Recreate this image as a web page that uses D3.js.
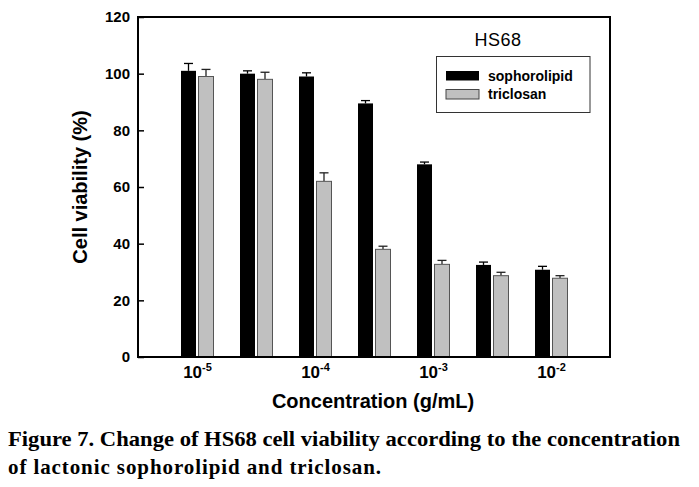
<!DOCTYPE html>
<html>
<head>
<meta charset="utf-8">
<script src="https://cdn.jsdelivr.net/npm/d3@7"></script>
<style>
  html, body { margin: 0; padding: 0; background: #fff; }
  svg { display: block; }
</style>
</head>
<body>
<svg id="chart" width="699" height="487"></svg>
<script>
// ---- data ----
const logConc = [-5, -4.5, -4, -3.5, -3, -2.5, -2];
const sophorolipid = [101, 100, 99, 89.5, 68, 32.5, 30.8];
const sophorolipidErr = [2.6, 1.0, 1.3, 1.0, 0.8, 1.0, 1.2];
const triclosan = [99, 98, 62, 38, 32.7, 28.7, 27.8];
const triclosanErr = [2.5, 2.5, 3.0, 1.1, 1.4, 1.2, 0.9];
const yTicks = [0, 20, 40, 60, 80, 100, 120];
const xTicks = [-5, -4, -3, -2];
const seriesNames = ["sophorolipid", "triclosan"];
const chartTitle = "HS68";
const yTitle = "Cell viability (%)";
const xTitle = "Concentration (g/mL)";
const captionLines = [
  "Figure 7. Change of HS68 cell viability according to the concentration",
  "of lactonic sophorolipid and triclosan."
];

// ---- layout ----
const svg = d3.select("#chart");
const L = 138, R = 610, T = 17, B = 357;
const x = d3.scaleLinear().domain([-5.5, -1.5]).range([L, R]);
const y = d3.scaleLinear().domain([0, 120]).range([B, T]);
const colors = ["#000000", "#c0c0c0"];
const barW = 15;
const offsets = [-16, 1.5];
const sans = "'Liberation Sans', Arial, sans-serif";

// bars
const series = [
  { vals: sophorolipid, errs: sophorolipidErr },
  { vals: triclosan, errs: triclosanErr }
];
series.forEach((s, si) => {
  const g = svg.append("g");
  // error bars (upward only)
  logConc.forEach((c, i) => {
    const cx = x(c) + offsets[si] + barW / 2;
    g.append("line")
      .attr("x1", cx).attr("x2", cx)
      .attr("y1", y(s.vals[i])).attr("y2", y(s.vals[i] + s.errs[i]))
      .attr("stroke", si === 0 ? "#000" : "#222").attr("stroke-width", 1.3);
    g.append("line")
      .attr("x1", cx - 4.5).attr("x2", cx + 4.5)
      .attr("y1", y(s.vals[i] + s.errs[i])).attr("y2", y(s.vals[i] + s.errs[i]))
      .attr("stroke", si === 0 ? "#000" : "#222").attr("stroke-width", 1.3);
  });
  g.selectAll("rect").data(s.vals).join("rect")
    .attr("x", (d, i) => x(logConc[i]) + offsets[si])
    .attr("y", d => y(d))
    .attr("width", barW)
    .attr("height", d => y(0) - y(d))
    .attr("fill", colors[si])
    .attr("stroke", si === 0 ? "#000" : "#555")
    .attr("stroke-width", si === 0 ? 0 : 1);
});

// frame
svg.append("rect")
  .attr("x", L).attr("y", T).attr("width", R - L).attr("height", B - T)
  .attr("fill", "none").attr("stroke", "#000").attr("stroke-width", 2);

// y axis (inward ticks)
const yAxis = d3.axisLeft(y).tickValues(yTicks).tickSizeInner(-6).tickSizeOuter(0).tickPadding(8);
const yg = svg.append("g").attr("transform", `translate(${L},0)`).call(yAxis);
yg.select(".domain").remove();
yg.selectAll(".tick line").attr("stroke", "#000").attr("stroke-width", 1.5);
yg.selectAll(".tick text")
  .attr("font-family", sans).attr("font-weight", "bold").attr("font-size", 15)
  .attr("fill", "#000");

// x axis labels 10^n
const xAxis = d3.axisBottom(x).tickValues(xTicks).tickSize(0).tickFormat("");
const xg = svg.append("g").attr("transform", `translate(0,${B})`).call(xAxis);
xg.select(".domain").remove();
xg.selectAll(".tick").each(function(d) {
  const t = d3.select(this).append("text")
    .attr("y", 21).attr("text-anchor", "middle")
    .attr("font-family", sans).attr("font-weight", "bold").attr("fill", "#000")
    .attr("font-size", 17);
  t.append("tspan").text("10");
  t.append("tspan").attr("font-size", 11).attr("dy", -7).text(String(d));
});

// axis titles
svg.append("text")
  .attr("x", (L + R) / 2 - 1).attr("y", 408)
  .attr("text-anchor", "middle")
  .attr("font-family", sans).attr("font-weight", "bold").attr("font-size", 20)
  .text(xTitle);
svg.append("text")
  .attr("transform", `translate(87,${(T + B) / 2}) rotate(-90)`)
  .attr("text-anchor", "middle")
  .attr("font-family", sans).attr("font-weight", "bold").attr("font-size", 20)
  .text(yTitle);

// chart title
svg.append("text")
  .attr("x", 498).attr("y", 46).attr("text-anchor", "middle")
  .attr("font-family", sans).attr("font-size", 18).attr("letter-spacing", 0.5)
  .text(chartTitle);

// legend
const lg = svg.append("g");
lg.append("rect").attr("x", 436.5).attr("y", 56.5).attr("width", 153.5).attr("height", 56)
  .attr("fill", "#fff").attr("stroke", "#333").attr("stroke-width", 1);
seriesNames.forEach((n, i) => {
  lg.append("rect").attr("x", 446).attr("y", 71 + i * 18.5).attr("width", 33).attr("height", 9.5)
    .attr("fill", colors[i]).attr("stroke", i === 0 ? "none" : "#444").attr("stroke-width", 1);
  lg.append("text").attr("x", 488).attr("y", 80.5 + i * 18.5)
    .attr("font-family", sans).attr("font-weight", "bold").attr("font-size", 14)
    .text(n);
});

// caption
const serif = "'Liberation Serif', 'Times New Roman', serif";
svg.append("text").attr("x", 8).attr("y", 446)
  .attr("font-family", serif).attr("font-weight", "bold").attr("font-size", 21)
  .attr("textLength", 672).attr("lengthAdjust", "spacingAndGlyphs")
  .text(captionLines[0]);
svg.append("text").attr("x", 8).attr("y", 474)
  .attr("font-family", serif).attr("font-weight", "bold").attr("font-size", 21)
  .attr("textLength", 373).attr("lengthAdjust", "spacing")
  .text(captionLines[1]);
</script>
</body>
</html>
